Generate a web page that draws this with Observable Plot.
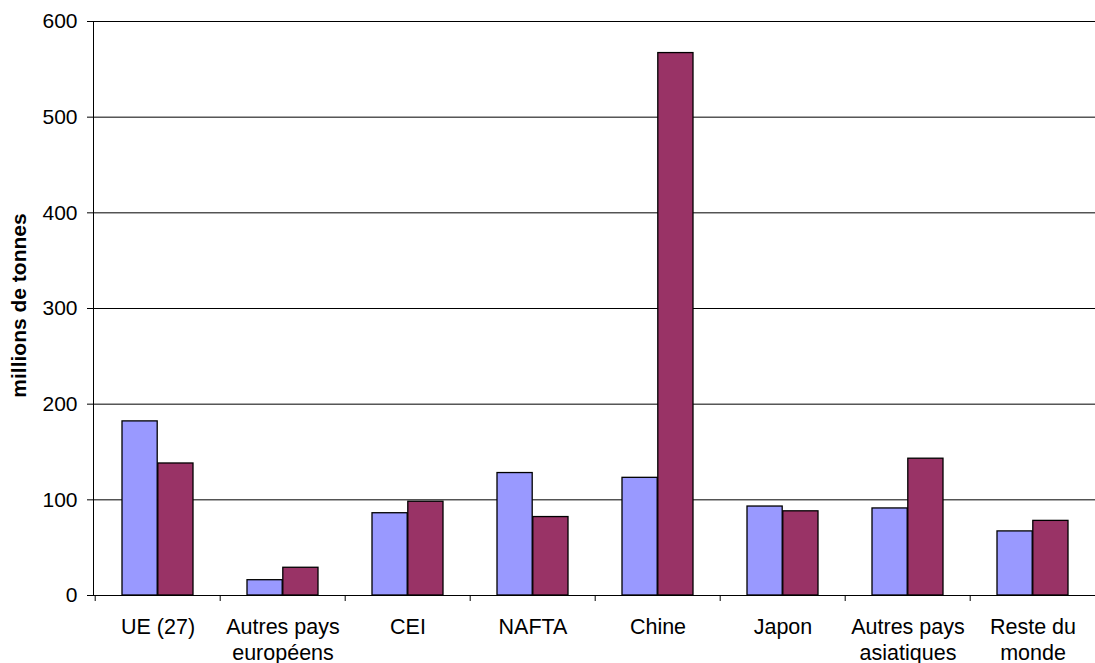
<!DOCTYPE html>
<html><head><meta charset="utf-8">
<script src="https://cdn.jsdelivr.net/npm/d3@7"></script>
<script src="https://cdn.jsdelivr.net/npm/@observablehq/plot@0.6"></script>
<style>
html,body{margin:0;padding:0;background:#fff;}
</style></head><body><div id="chart"></div>
<script>
const categories = ["UE (27)", "Autres pays européens", "CEI", "NAFTA", "Chine", "Japon", "Autres pays asiatiques", "Reste du monde"];
const tickLabels = ["UE (27)", "Autres pays\neuropéens", "CEI", "NAFTA", "Chine", "Japon", "Autres pays\nasiatiques", "Reste du\nmonde"];
const seriesNames = ["Série 1", "Série 2"];
const serie1 = [182, 16, 86, 128, 123, 93, 91, 67];
const serie2 = [138, 29, 98, 82, 567, 88, 143, 78];
const yTicks = [0, 100, 200, 300, 400, 500, 600];
const yLabel = "millions de tonnes";

const rows1 = categories.map((c, i) => ({cat: c, serie: seriesNames[0], value: serie1[i]}));
const rows2 = categories.map((c, i) => ({cat: c, serie: seriesNames[1], value: serie2[i]}));

const W = 1095, H = 663, mL = 93, mR = -3;
const padIn = 0.43;
const step = (W - mR - mL) / categories.length;
const half = step * (1 - padIn) / 2;

const chart = Plot.plot({
  width: W, height: H,
  marginLeft: mL, marginRight: mR, marginTop: 21, marginBottom: 68,
  style: {fontFamily: "'Liberation Sans', Arial, sans-serif", fontSize: "21px", background: "#fff", color: "#000"},
  x: {domain: categories, paddingInner: padIn, paddingOuter: padIn / 2},
  y: {domain: [0, 600]},
  color: {domain: seriesNames, range: ["#9999FF", "#993366"]},
  marks: [
    Plot.gridY(yTicks, {stroke: "#000", strokeOpacity: 1}),
    Plot.barY(rows1, {x: "cat", y: "value", fill: "serie", stroke: "#000", strokeWidth: 1.3, insetRight: half}),
    Plot.barY(rows2, {x: "cat", y: "value", fill: "serie", stroke: "#000", strokeWidth: 1.3, insetLeft: half}),
    Plot.ruleX(categories, {x: d => d, y1: 0, y2: 0, dx: -step / 2, insetBottom: -6, stroke: "#000"}),
    Plot.frame({anchor: "left", stroke: "#000"}),
    Plot.axisY(yTicks, {tickSize: 6, tickPadding: 10, label: null, stroke: "#000"}),
    Plot.axisX({tickSize: 0, tickPadding: 19, label: null, lineHeight: 1.25, fontSize: 21.5, tickFormat: d => tickLabels[categories.indexOf(d)]}),
    Plot.text([yLabel], {frameAnchor: "left", textAnchor: "middle", rotate: -90, dx: -74, dy: -3, fontWeight: "bold", fontSize: 21, text: d => d})
  ]
});
document.getElementById("chart").appendChild(chart);
</script>
</body></html>
